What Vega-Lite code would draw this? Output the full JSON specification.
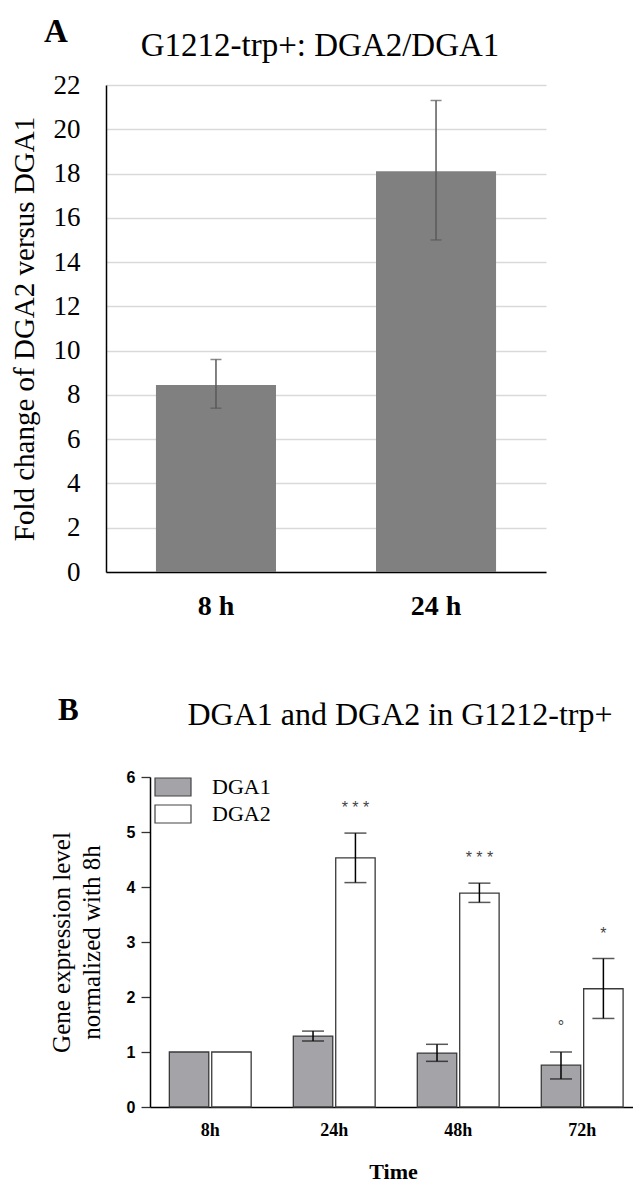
{
  "$schema": "https://vega.github.io/schema/vega-lite/v6.json",
  "background": "white",
  "padding": {"left": 10, "top": 16, "right": 0, "bottom": 0},
  "config": {"view": {"stroke": null}, "font": "Liberation Serif"},
  "spacing": 75,
  "resolve": {"legend": {"color": "independent"}, "scale": {"color": "independent"}},
  "vconcat": [
    {
      "title": {"text": "A", "anchor": "start", "frame": "bounds", "font": "Liberation Serif", "fontSize": 33, "fontWeight": "bold", "color": "#000", "offset": -19, "dx": 34},
      "vconcat": [
        {
          "title": {"text": "G1212-trp+: DGA2/DGA1", "font": "Liberation Serif", "fontSize": 33, "fontWeight": "normal", "color": "#000", "anchor": "middle", "frame": "group", "offset": 8, "dx": -6},
          "width": 440,
          "height": 487,
          "data": {"values": [
            {"time": "8 h", "fold": 8.45, "lo": 7.4, "hi": 9.6},
            {"time": "24 h", "fold": 18.1, "lo": 15.0, "hi": 21.3}
          ]},
          "encoding": {
            "x": {"field": "time", "type": "nominal", "sort": ["8 h", "24 h"],
              "scale": {"paddingInner": 0.4545, "paddingOuter": 0.227},
              "axis": {"title": null, "labelAngle": 0, "labelFont": "Liberation Serif", "labelFontSize": 28, "labelFontWeight": "bold", "labelColor": "#000", "labelPadding": 20, "ticks": false, "tickSize": 0, "domainColor": "#000", "domainWidth": 1.5, "grid": false}}
          },
          "layer": [
            {
              "mark": {"type": "bar", "color": "#808080"},
              "encoding": {
                "y": {"field": "fold", "type": "quantitative", "scale": {"domain": [0, 22], "nice": false},
                  "axis": {"title": "Fold change of DGA2 versus DGA1", "titleFont": "Liberation Serif", "titleFontSize": 29, "titleFontWeight": "normal", "titleColor": "#000", "titlePadding": 14,
                    "values": [0, 2, 4, 6, 8, 10, 12, 14, 16, 18, 20, 22], "labelFont": "Liberation Serif", "labelFontSize": 27, "labelColor": "#000", "labelPadding": 26, "ticks": false, "tickSize": 0,
                    "domainColor": "#000", "domainWidth": 1.5, "grid": true, "gridColor": "#d9d9d9", "gridWidth": 1.5}}
              }
            },
            {
              "mark": {"type": "rule", "color": "#595959", "strokeWidth": 1.5},
              "encoding": {"y": {"field": "lo", "type": "quantitative"}, "y2": {"field": "hi"}}
            },
            {
              "mark": {"type": "tick", "color": "#595959", "size": 11, "thickness": 1.5},
              "encoding": {"y": {"field": "lo", "type": "quantitative"}}
            },
            {
              "mark": {"type": "tick", "color": "#595959", "size": 11, "thickness": 1.5},
              "encoding": {"y": {"field": "hi", "type": "quantitative"}}
            }
          ]
        }
      ]
    },
    {
      "title": {"text": "B", "anchor": "start", "frame": "bounds", "font": "Liberation Serif", "fontSize": 31, "fontWeight": "bold", "color": "#000", "offset": -28, "dx": 9},
      "resolve": {"legend": {"color": "independent"}},
      "vconcat": [
        {
          "title": {"text": "DGA1 and DGA2 in G1212-trp+", "font": "Liberation Serif", "fontSize": 32, "fontWeight": "normal", "color": "#000", "anchor": "middle", "frame": "group", "offset": 37, "dx": 29},
          "width": 530,
          "height": 330,
          "data": {"values": [
            {"time": "8h", "gene": "DGA1", "value": 1.0},
            {"time": "8h", "gene": "DGA2", "value": 1.0},
            {"time": "24h", "gene": "DGA1", "value": 1.29, "lo": 1.2, "hi": 1.38},
            {"time": "24h", "gene": "DGA2", "value": 4.53, "lo": 4.08, "hi": 4.98, "sig": "* * *"},
            {"time": "48h", "gene": "DGA1", "value": 0.98, "lo": 0.83, "hi": 1.14},
            {"time": "48h", "gene": "DGA2", "value": 3.89, "lo": 3.72, "hi": 4.07, "sig": "* * *"},
            {"time": "72h", "gene": "DGA1", "value": 0.76, "lo": 0.51, "hi": 1.0, "sig": "°"},
            {"time": "72h", "gene": "DGA2", "value": 2.15, "lo": 1.61, "hi": 2.7, "sig": "*"}
          ]},
          "encoding": {
            "x": {"field": "time", "type": "nominal", "sort": ["8h", "24h", "48h", "72h"],
              "scale": {"range": [44, 530], "paddingInner": 0.34, "paddingOuter": 0.13, "align": 0.6},
              "axis": {"title": "Time", "titleFont": "Liberation Serif", "titleFontSize": 22, "titleFontWeight": "bold", "titleColor": "#000", "titlePadding": 22,
                "labelAngle": 0, "labelFont": "Liberation Serif", "labelFontSize": 18, "labelFontWeight": "bold", "labelColor": "#000", "labelPadding": 14, "ticks": false, "tickSize": 0, "domainColor": "#000", "domainWidth": 1.5, "grid": false}},
            "xOffset": {"field": "gene", "type": "nominal", "sort": ["DGA1", "DGA2"], "scale": {"paddingInner": 0.07}}
          },
          "layer": [
            {
              "mark": {"type": "bar", "stroke": "#3a3a3a", "strokeWidth": 1.3},
              "encoding": {
                "y": {"field": "value", "type": "quantitative", "scale": {"domain": [0, 6], "nice": false},
                  "axis": {"offset": -44, "values": [0, 1, 2, 3, 4, 5, 6], "format": "d", "labelFont": "Liberation Sans", "labelFontSize": 16, "labelFontWeight": "bold", "labelColor": "#000", "labelPadding": 6,
                    "tickSize": 9, "tickColor": "#333", "tickWidth": 1.3, "domainColor": "#000", "domainWidth": 1.5, "grid": false,
                    "title": ["Gene expression level", "normalized with 8h"], "titleFont": "Liberation Serif", "titleFontSize": 25, "titleFontWeight": "normal", "titleColor": "#000", "titleLineHeight": 30, "titlePadding": 22}},
                "color": {"field": "gene", "type": "nominal", "sort": ["DGA1", "DGA2"], "scale": {"domain": ["DGA1", "DGA2"], "range": ["#a3a3a8", "#ffffff"]},
                  "legend": {"title": null, "orient": "none", "legendX": 56, "legendY": -1, "padding": 0, "symbolType": "M-2,-1H2V1H-2Z", "symbolSize": 324, "symbolStrokeColor": "#444", "symbolStrokeWidth": 1.2, "labelFont": "Liberation Serif", "labelFontSize": 22, "labelColor": "#000", "labelOffset": 28, "rowPadding": 3}}
              }
            },
            {
              "mark": {"type": "rule", "color": "#000", "strokeWidth": 1.5},
              "encoding": {"y": {"field": "lo", "type": "quantitative"}, "y2": {"field": "hi"}}
            },
            {
              "mark": {"type": "tick", "color": "#111", "size": 22, "thickness": 1.5},
              "encoding": {"y": {"field": "lo", "type": "quantitative"}}
            },
            {
              "mark": {"type": "tick", "color": "#111", "size": 22, "thickness": 1.5},
              "encoding": {"y": {"field": "hi", "type": "quantitative"}}
            },
            {
              "transform": [{"filter": "isValid(datum.sig)"}],
              "mark": {"type": "text", "font": "Liberation Sans", "fontSize": 16, "color": "#444", "baseline": "alphabetic", "dy": -20},
              "encoding": {"y": {"field": "hi", "type": "quantitative"}, "text": {"field": "sig"}}
            }
          ]
        }
      ]
    }
  ]
}
